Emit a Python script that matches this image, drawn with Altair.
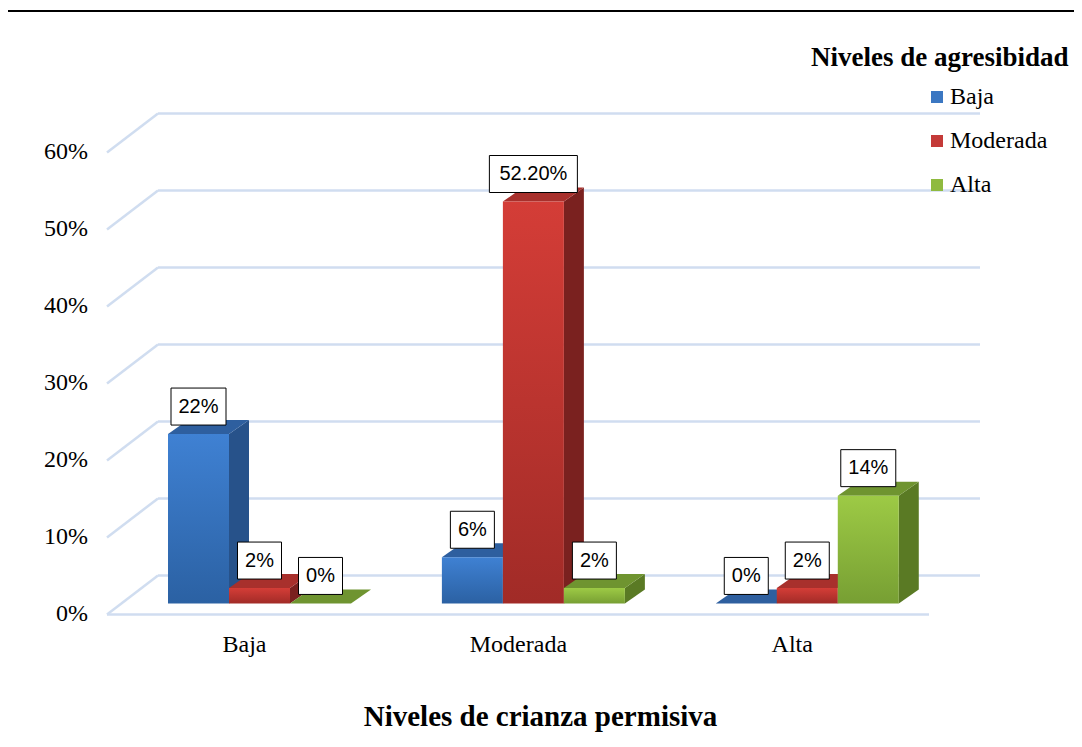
import altair as alt
import pandas as pd

# ---------------- data ----------------
categories = ["Baja", "Moderada", "Alta"]          # Niveles de crianza permisiva
series = ["Baja", "Moderada", "Alta"]              # Niveles de agresibidad
values_baja = [22, 6, 0]
values_moderada = [2, 52.2, 2]
values_alta = [0, 2, 14]
labels_baja = ["22%", "6%", "0%"]
labels_moderada = ["2%", "52.20%", "2%"]
labels_alta = ["0%", "2%", "14%"]
y_ticks = [0, 10, 20, 30, 40, 50, 60]

x_title = "Niveles de crianza permisiva"
legend_title = "Niveles de agresibidad"

# ---------------- geometry / style constants ----------------
W, H = 873, 500
PX_X = 61.0            # px per bar slot
PX_Y = 7.7             # px per percentage point
X_MAX = W / PX_X
Y_MIN = -1.5
Y_MAX = Y_MIN + H / PX_Y
FIRST = 1.0
STEP = 4.49
BAR_DX = 20 / PX_X
BAR_DY = 14 / PX_Y
FLOOR_DX = 51 / PX_X
FLOOR_FRONT = -11 / PX_Y
FLOOR_BACK = 28 / PX_Y
FLOOR_END = 822 / PX_X
CAT_SHIFT = -15 / PX_X

SERIF = "Liberation Serif"
SANS = "Liberation Sans"
GRID = "#d0ddf0"

front_top = ["#3f81d3", "#d43d37", "#9dca45"]
front_bot = ["#2b61a3", "#a12b27", "#779f33"]
side_col = ["#27528a", "#7a211f", "#5a7a24"]
top_col = ["#2e5f9f", "#a8302c", "#6f9430"]
legend_col = ["#3b77c2", "#c43a38", "#8fba3f"]

rows = []
for s_i, (sname, vals, labs) in enumerate(
    zip(series, [values_baja, values_moderada, values_alta],
        [labels_baja, labels_moderada, labels_alta])):
    for g, cat in enumerate(categories):
        rows.append(dict(cat=cat, serie=sname, g=g, s=s_i,
                         value=vals[g], label=labs[g]))
df = pd.DataFrame(rows)
grid_df = pd.DataFrame({"t": y_ticks})
cat_df = pd.DataFrame({"cat": categories, "g": list(range(len(categories)))})

xs = alt.Scale(domain=[0, X_MAX], nice=False, zero=False)
ys = alt.Scale(domain=[Y_MIN, Y_MAX], nice=False, zero=False)

base = alt.Chart(df).transform_calculate(
    x0=f"{FIRST} + datum.g * {STEP} + datum.s",
    x1=f"{FIRST} + datum.g * {STEP} + datum.s + 1",
    xc=f"{FIRST} + datum.g * {STEP} + datum.s + 0.5",
    zero="0",
)

# ---------------- grid (3D wall + floor) ----------------
gbase = alt.Chart(grid_df).transform_calculate(
    yb=f"datum.t + {FLOOR_BACK}", yf=f"datum.t + {FLOOR_FRONT}",
    txt="datum.t + '%'",
)
grid_back = gbase.mark_rule(color=GRID, strokeWidth=2.5).encode(
    x=alt.X(datum=FLOOR_DX, scale=xs, axis=None),
    x2=alt.X2(datum=X_MAX),
    y=alt.Y("yb:Q", scale=ys, axis=None),
)
grid_diag = gbase.mark_rule(color=GRID, strokeWidth=2.5).encode(
    x=alt.X(datum=0, scale=xs, axis=None),
    x2=alt.X2(datum=FLOOR_DX),
    y=alt.Y("yf:Q", scale=ys, axis=None),
    y2="yb:Q",
)
floor_front = gbase.transform_filter("datum.t == 0").mark_rule(
    color=GRID, strokeWidth=2.5).encode(
    x=alt.X(datum=0, scale=xs, axis=None),
    x2=alt.X2(datum=FLOOR_END),
    y=alt.Y("yf:Q", scale=ys, axis=None),
)
# value-axis labels (placed on the front edge of the floor/wall lines)
y_labels = gbase.mark_text(font=SERIF, fontSize=24, color="black",
                           align="right", baseline="middle").encode(
    x=alt.value(-19),
    y=alt.Y("yf:Q", scale=ys, axis=None),
    text="txt:N",
)
# category labels
x_labels = alt.Chart(cat_df).transform_calculate(
    cx=f"{FIRST + 1.5} + datum.g * {STEP} + {CAT_SHIFT}"
).mark_text(font=SERIF, fontSize=24, color="black",
            align="center", baseline="middle").encode(
    x=alt.X("cx:Q", scale=xs, axis=None),
    y=alt.value(530),
    text="cat:N",
)
x_title_layer = alt.Chart(pd.DataFrame({"t": [x_title]})).mark_text(
    font=SERIF, fontSize=29, fontWeight="bold", color="black",
    align="center", baseline="middle").encode(
    x=alt.value(W / 2 - 3), y=alt.value(602), text="t:N")

layers = [grid_back, grid_diag, floor_front, y_labels, x_labels, x_title_layer]

# ---------------- 3D bars, drawn series by series (left to right) ----------------
for s_i in range(len(series)):
    sb = base.transform_filter(f"datum.s == {s_i}")
    side = sb.transform_calculate(
        vx=f"[datum.x1, datum.x1 + {BAR_DX}]",
        vlo=f"[0, {BAR_DY}]",
        vhi=f"[datum.value, datum.value + {BAR_DY}]",
    ).transform_flatten(["vx", "vlo", "vhi"]).mark_area(
        orient="vertical", color=side_col[s_i]).encode(
        x=alt.X("vx:Q", scale=xs, axis=None),
        y=alt.Y("vlo:Q", scale=ys, axis=None),
        y2="vhi:Q",
        detail="cat:N",
    )
    top = sb.transform_calculate(
        vx=f"[datum.x0, datum.x0 + {BAR_DX}, datum.x1, datum.x1 + {BAR_DX}]",
        vlo=f"[datum.value, datum.value, datum.value, datum.value + {BAR_DY}]",
        vhi=f"[datum.value, datum.value + {BAR_DY}, datum.value + {BAR_DY}, datum.value + {BAR_DY}]",
    ).transform_flatten(["vx", "vlo", "vhi"]).mark_area(
        orient="vertical", color=top_col[s_i]).encode(
        x=alt.X("vx:Q", scale=xs, axis=None),
        y=alt.Y("vlo:Q", scale=ys, axis=None),
        y2="vhi:Q",
        detail="cat:N",
    )
    grad = alt.LinearGradient(
        gradient="linear", x1=0, y1=0, x2=0, y2=1,
        stops=[alt.GradientStop(color=front_top[s_i], offset=0),
               alt.GradientStop(color=front_bot[s_i], offset=1)],
    )
    front = sb.mark_rect(fill=grad).encode(
        x=alt.X("x0:Q", scale=xs, axis=None),
        x2="x1:Q",
        y=alt.Y("zero:Q", scale=ys, axis=None),
        y2="value:Q",
    )
    layers += [side, top, front]

# ---------------- boxed data labels ----------------
lab = base.transform_calculate(
    bw=f"(22 + 11 * length(datum.label)) / {PX_X}",
).transform_calculate(
    bx0="datum.xc - datum.bw / 2",
    bx1="datum.xc + datum.bw / 2",
    by0=f"datum.value + {9 / PX_Y}",
    by1=f"datum.value + {46 / PX_Y}",
    ty=f"datum.value + {27.5 / PX_Y}",
)
boxes = lab.mark_rect(fill="white", stroke="black", strokeWidth=1).encode(
    x=alt.X("bx0:Q", scale=xs, axis=None), x2="bx1:Q",
    y=alt.Y("by0:Q", scale=ys, axis=None), y2="by1:Q",
)
texts = lab.mark_text(font=SANS, fontSize=20, color="black",
                      align="center", baseline="middle").encode(
    x=alt.X("xc:Q", scale=xs, axis=None),
    y=alt.Y("ty:Q", scale=ys, axis=None),
    text="label:N",
)
layers += [boxes, texts]

# ---------------- legend ----------------
legend_layer = alt.Chart(df).mark_square(opacity=0).encode(
    color=alt.Color(
        "serie:N",
        scale=alt.Scale(domain=series, range=legend_col),
        legend=alt.Legend(
            orient="none", legendX=818, legendY=-30, title=None,
            symbolType="square", symbolSize=144, symbolStrokeWidth=0,
            symbolOpacity=1, labelFont=SERIF, labelFontSize=24,
            labelColor="black", labelOffset=1, rowPadding=20, padding=0,
        ),
    ),
)
legend_title_layer = alt.Chart(pd.DataFrame({"t": [legend_title]})).mark_text(
    font=SERIF, fontSize=27, fontWeight="bold", color="black",
    align="left", baseline="middle").encode(
    x=alt.value(704), y=alt.value(-57), text="t:N")

frame_top = alt.Chart(grid_df).mark_rule(color="black", strokeWidth=1.5).encode(
    x=alt.value(-100), x2=alt.value(1000), y=alt.value(-104))
frame_left = alt.Chart(grid_df).mark_rule(color="#7f7f7f", strokeWidth=2).encode(
    x=alt.value(-100), y=alt.value(-104), y2=alt.value(700))

layers += [legend_layer, legend_title_layer, frame_top, frame_left]

chart = alt.layer(*layers).properties(
    width=W, height=H,
    background="white",
    autosize=alt.AutoSizeParams(type="none"),
    padding={"left": 99, "top": 107, "right": 94, "bottom": 118},
).configure_view(stroke=None, strokeWidth=0)

chart.save("out.html", embed_options={"renderer": "svg", "actions": False})
